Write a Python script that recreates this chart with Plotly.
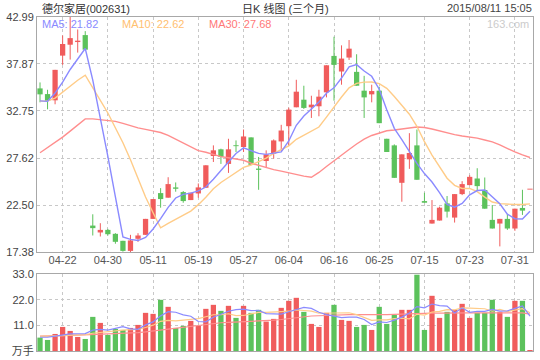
import plotly.graph_objects as go

dates = ["04-17","04-20","04-21","04-22","04-23","04-24","04-27","04-28","04-29","04-30",
         "05-04","05-05","05-06","05-07","05-08","05-11","05-12","05-13","05-14","05-15",
         "05-18","05-19","05-20","05-21","05-22","05-25","05-26","05-27","05-28","05-29",
         "06-01","06-02","06-03","06-04","06-05","06-08","06-09","06-10","06-15","06-16",
         "06-17","06-18","06-19","06-23","06-24","06-25","06-26","06-29","06-30","07-01",
         "07-14","07-15","07-16","07-17","07-20","07-21","07-22","07-23","07-24","07-27",
         "07-28","07-29","07-30","07-31","08-03","08-11"]

opens = [35.21,34.59,33.91,38.78,39.97,40.26,41.02,20.26,19.51,19.79,
         19.36,18.60,17.50,18.82,19.25,20.99,23.80,23.30,24.42,23.91,
         23.04,23.76,24.38,27.84,28.57,26.98,29.00,28.82,29.87,26.47,
         27.30,28.10,29.43,31.09,33.15,33.98,33.15,33.26,34.78,38.75,
         37.05,38.57,37.01,34.96,34.56,34.96,29.72,29.00,24.92,27.48,
         29.00,22.93,20.48,20.81,22.68,21.13,23.69,24.67,25.39,24.13,
         20.88,20.48,20.99,19.94,22.18,24.23]
highs = [35.86,35.06,37.23,40.98,42.99,41.63,41.45,21.49,20.52,19.90,
         19.43,18.60,19.25,19.43,20.99,23.15,24.34,25.53,24.96,24.02,
         23.84,24.85,26.83,29.00,28.64,29.72,29.54,30.73,29.87,27.74,
         28.46,29.65,31.24,33.11,36.15,35.50,34.41,35.06,37.73,40.84,
         39.90,40.48,38.93,36.58,35.61,35.39,29.72,29.11,28.02,30.33,
         30.73,23.84,23.04,22.32,23.48,23.69,25.10,25.75,26.51,25.50,
         22.50,20.99,21.53,22.10,24.16,24.23]
lows = [33.69,32.93,33.48,37.77,38.35,39.11,39.43,19.18,19.07,19.18,
        18.28,17.42,17.38,18.49,19.25,20.99,22.21,23.30,23.95,22.75,
        23.04,23.30,24.38,27.19,26.98,26.00,28.28,28.28,26.87,24.16,
        26.58,27.56,28.39,29.00,33.15,32.97,31.99,32.17,34.23,33.87,
        35.61,38.31,35.50,31.99,33.69,31.42,28.28,25.46,22.86,26.44,
        25.25,22.75,20.48,20.81,21.13,20.59,23.58,24.67,24.02,22.10,
        19.94,17.99,19.79,19.69,21.42,24.23]
closes = [34.56,33.84,37.23,40.05,40.69,40.41,39.43,19.98,19.79,19.32,
          18.49,17.50,18.64,19.18,20.99,23.15,23.15,24.78,24.27,22.93,
          23.84,24.42,26.83,28.46,27.74,28.57,28.93,29.97,26.87,26.33,
          28.02,29.54,30.62,32.90,34.85,33.08,33.44,34.31,37.73,37.77,
          38.46,39.54,35.50,34.23,34.92,31.42,28.28,25.46,28.02,28.17,
          25.25,22.75,20.88,22.21,21.78,23.69,24.78,25.57,24.56,22.10,
          19.94,20.99,19.94,22.10,21.89,24.23]
volumes = [5.74,4.73,7.31,10.32,8.60,6.02,5.16,14.63,12.05,6.88,
           9.46,9.03,9.89,11.19,16.35,15.92,21.94,18.93,9.89,10.76,
           12.91,10.76,18.07,19.79,17.21,19.36,14.20,19.36,16.35,17.64,
           12.62,13.77,18.50,21.51,22.80,16.78,11.62,10.32,16.35,19.79,
           13.34,12.91,10.32,11.19,9.03,18.93,11.62,15.49,17.64,17.64,
           32.70,9.03,23.66,14.20,16.78,17.64,20.22,14.20,16.35,16.35,
           21.94,16.78,14.63,21.51,21.51,0.43]

ma5 = [33.85,33.80,34.70,35.90,37.27,38.44,39.56,36.11,32.06,27.79,
       23.40,19.02,18.75,18.63,18.96,19.89,21.02,22.25,23.27,23.66,
       23.79,24.05,24.46,25.30,26.26,27.20,28.11,28.73,28.42,28.13,
       28.02,28.15,28.28,29.48,31.19,32.20,32.98,33.72,34.68,35.27,
       36.34,37.56,37.80,37.10,36.53,35.12,32.87,30.86,29.62,28.27,
       27.04,25.93,25.01,23.85,22.57,22.26,22.67,23.61,24.08,24.14,
       23.39,22.63,21.51,21.01,20.97,21.82]
ma10 = [33.82,33.82,34.15,34.80,35.50,36.10,36.65,35.20,33.90,32.53,
        30.92,29.29,27.43,25.34,23.37,21.65,20.02,20.50,20.95,21.31,
        21.84,22.54,23.35,24.28,24.96,25.50,26.08,26.60,26.86,27.20,
        27.61,28.13,28.51,28.95,29.66,30.11,30.56,31.00,32.08,33.23,
        34.27,35.27,35.76,35.89,35.90,35.73,35.22,34.33,33.36,32.40,
        31.08,29.40,27.94,26.74,25.42,24.65,24.30,24.31,23.96,23.36,
        22.83,22.65,22.56,22.55,22.56,22.62]
ma30 = [28.20,28.75,29.30,29.90,30.55,31.20,31.89,31.89,31.82,31.76,
        31.62,31.40,31.15,30.90,30.75,30.60,30.40,30.10,29.70,29.30,
        28.85,28.42,28.25,27.99,27.78,27.65,27.55,27.38,27.05,26.80,
        26.55,26.35,26.20,26.00,25.80,25.65,25.52,26.05,26.70,27.35,
        27.95,28.55,29.15,29.68,30.08,30.37,30.59,30.68,30.75,30.90,
        31.00,30.95,30.78,30.55,30.35,30.17,30.02,29.90,29.79,29.58,
        29.39,29.05,28.65,28.28,27.96,27.68]
vol_ma5 = [5.9,5.9,6.4,6.9,7.34,7.40,7.48,8.95,9.29,8.95,
           9.64,10.41,9.46,9.29,11.18,12.48,15.06,16.87,16.61,15.49,
           14.89,12.65,12.48,14.46,15.75,17.04,17.73,17.98,17.30,17.38,
           16.03,15.95,15.78,16.81,17.84,18.67,18.24,16.61,15.57,14.97,
           14.28,14.54,14.54,13.51,11.36,12.48,12.22,13.25,14.54,16.26,
           19.02,18.50,20.13,19.45,19.27,16.26,18.50,16.61,17.04,16.95,
           17.81,17.12,17.21,18.24,19.27,14.97]
vol_ma10 = [6.3,6.3,6.4,6.6,6.8,6.9,7.0,7.6,8.0,8.14,
            8.52,8.95,9.20,9.29,10.07,11.06,12.73,13.16,12.95,13.34,
            13.68,13.85,14.67,15.53,15.62,15.96,15.19,15.23,15.88,16.57,
            16.54,16.84,16.88,17.05,17.61,17.35,17.10,16.19,16.19,16.41,
            16.48,16.39,15.57,14.54,13.17,13.38,13.38,13.90,14.03,13.81,
            15.75,15.36,16.69,16.99,17.77,17.64,18.50,18.37,18.24,18.11,
            17.04,17.81,16.91,17.64,18.11,16.39]
vol_ma30 = [6.4,6.4,6.5,6.6,6.7,6.8,6.9,7.0,7.1,7.2,
            7.3,7.5,7.7,7.9,8.2,8.6,9.1,9.6,10.0,10.4,
            10.8,11.2,11.5,11.8,12.1,12.3,12.4,12.5,12.6,12.8,
            12.91,13.2,13.5,13.9,14.3,14.79,15.0,15.1,15.3,15.45,
            15.57,15.6,15.55,15.5,15.45,15.57,15.6,15.7,15.8,15.9,
            16.25,16.1,16.2,16.2,16.3,16.12,16.3,16.3,16.35,16.4,
            16.42,16.52,16.39,16.39,16.35,15.80]

tick_dates = ["04-22","04-30","05-11","05-19","05-27","06-04","06-16","06-25","07-15","07-23","07-31"]
price_ticks = [17.38, 22.50, 27.62, 32.75, 37.87, 42.99]
vol_ticks = [0, 11, 22, 33]
vol_tick_text = ["万手", "11.0", "22.0", "33.0"]

stock_title = "德尔家居(002631)"
chart_title = "日K 线图 (三个月)"
time_stamp = "2015/08/11 15:05"

RED = "#f05c5c"
GREEN = "#5cc25c"
C_MA5 = "#8a8aff"
C_MA10 = "#ffcc88"
C_MA30 = "#ff8e8e"
FONT = "Liberation Sans, Arial, Noto Sans CJK SC"

n = len(dates)
xs = list(range(n))
up = [closes[i] >= opens[i] for i in xs]

fig = go.Figure()

MIN_H = 0.1
for is_up, col in ((True, RED), (False, GREEN)):
    idx = [i for i in xs if up[i] == is_up]
    wx, wy = [], []
    for i in idx:
        wx += [i, i, None]
        wy += [lows[i], highs[i], None]
    fig.add_trace(go.Scatter(x=wx, y=wy, mode="lines", line=dict(color=col, width=1),
                             hoverinfo="skip", showlegend=False, xaxis="x", yaxis="y"))
    bases, hs = [], []
    for i in idx:
        lo = min(opens[i], closes[i])
        h = abs(closes[i] - opens[i])
        if h < MIN_H:
            lo -= (MIN_H - h) / 2
            h = MIN_H
        bases.append(lo)
        hs.append(h)
    fig.add_trace(go.Bar(x=idx, y=hs, base=bases, width=0.7, marker=dict(color=col, line=dict(width=0)),
                         showlegend=False, xaxis="x", yaxis="y"))
    fig.add_trace(go.Bar(x=idx, y=[max(volumes[i], 0.25) for i in idx], width=0.7,
                         marker=dict(color=col, line=dict(width=0)),
                         showlegend=False, xaxis="x2", yaxis="y2"))

for vals, col in ((ma30, C_MA30), (ma10, C_MA10), (ma5, C_MA5)):
    fig.add_trace(go.Scatter(x=xs, y=vals, mode="lines", line=dict(color=col, width=1.4),
                             showlegend=False, xaxis="x", yaxis="y"))
for vals, col in ((vol_ma30, C_MA30), (vol_ma10, C_MA10), (vol_ma5, C_MA5)):
    fig.add_trace(go.Scatter(x=xs, y=vals, mode="lines", line=dict(color=col, width=1.2),
                             showlegend=False, xaxis="x2", yaxis="y2"))

tickvals = [dates.index(d) for d in tick_dates]
GRID = "#c8c8c8"
AXL = "#a8a8a8"
common_x = dict(range=[-0.4, 65.4], tickvals=tickvals, showgrid=True, gridcolor=GRID,
                griddash="3px,3px", gridwidth=1, showline=True, linecolor=AXL, linewidth=1,
                mirror=True, ticks="", zeroline=False, fixedrange=True, automargin=False)
common_y = dict(showgrid=True, gridcolor=GRID, griddash="3px,3px", showline=True, linecolor=AXL,
                mirror=True, ticks="", zeroline=False, automargin=False,
                tickfont=dict(size=11, color="#444444"))
fig.update_layout(
    width=540, height=360,
    margin=dict(l=37, r=7, t=17, b=9, autoexpand=False),
    paper_bgcolor="white", plot_bgcolor="white",
    barmode="overlay", showlegend=False,
    font=dict(family=FONT, size=11, color="#444444"),
    xaxis=dict(domain=[0, 1], anchor="y", ticktext=tick_dates, showticklabels=True,
               tickfont=dict(size=11, color="#555555"), ticklabelstandoff=-2, **common_x),
    xaxis2=dict(domain=[0, 1], anchor="y2", showticklabels=False, **common_x),
    yaxis=dict(domain=[0.2964, 1], range=[price_ticks[0], price_ticks[-1]], tickvals=price_ticks,
               ticktext=[f"{v:.2f}" for v in price_ticks], **common_y),
    yaxis2=dict(domain=[0, 0.2305], range=[0, 33], tickvals=vol_ticks, ticktext=vol_tick_text,
                **common_y),
)

def px(x):
    return (x - 37) / 496.0

def py(y):
    return (351 - y) / 334.0

ann = [
    (stock_title, 40, 8, "left", "#333333"),
    (chart_title, 285, 8, "center", "#333333"),
    (time_stamp, 534, 8, "right", "#444444"),
    (f"MA5: {ma5[-1]:.2f}", 40, 24, "left", C_MA5),
    (f"MA10: {ma10[-1]:.2f}", 120, 24, "left", "#ffc070"),
    (f"MA30: {ma30[-1]:.2f}", 207, 24, "left", "#ff7878"),
    ("163.com", 531, 24, "right", "#cccccc"),
]
for text, x, y, anchor, col in ann:
    fig.add_annotation(text=text, x=px(x), y=py(y), xref="paper", yref="paper",
                       xanchor=anchor, yanchor="middle", showarrow=False,
                       font=dict(family=FONT, size=11, color=col))

fig.write_html("out.html", config={"displayModeBar": False, "staticPlot": True},
               post_script="document.body.style.margin='0px';document.body.style.overflow='hidden';")
